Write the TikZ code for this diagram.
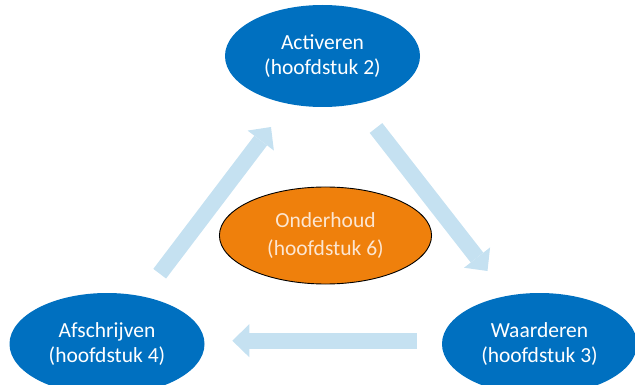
\documentclass[tikz,border=0pt]{standalone}
\usepackage{fontspec}
\setmainfont{Carlito}
\usetikzlibrary{shapes.geometric,arrows.meta}
\definecolor{ovalblue}{HTML}{0070C0}
\definecolor{ovalorange}{HTML}{EF800C}
\definecolor{orangetext}{HTML}{FCE6D2}
\definecolor{arrowblue}{HTML}{C5E1F1}
\tikzset{
  bluestage/.style={ellipse, fill=ovalblue, inner sep=0pt, minimum width=195pt, minimum height=102pt,
    text=white, align=center, font=\fontsize{21.5pt}{24.5pt}\selectfont},
  centerstage/.style={ellipse, fill=ovalorange, draw=black, line width=0.9pt, inner sep=0pt,
    minimum width=197pt, minimum height=97pt, text=orangetext, align=center,
    font=\fontsize{21.5pt}{28pt}\selectfont},
  flowarrow/.style={draw=arrowblue, line width=16pt,
    -{Triangle[length=17pt,width=33pt,line width=0pt,fill=arrowblue]}}
}
\begin{document}
\begin{tikzpicture}[x=1pt,y=-1pt]
\useasboundingbox (0,0) rectangle (635,385);
\clip (0,0) rectangle (635,385);
\node[bluestage] (act) at (322.5,56) {Activeren\\(hoofdstuk 2)};
\node[bluestage] (waa) at (539.5,344) {Waarderen\\(hoofdstuk 3)};
\node[bluestage] (afs) at (107,344) {Afschrijven\\(hoofdstuk 4)};
\node[centerstage] (ond) at (325.5,235.5) {\raisebox{-4pt}{\parbox{150pt}{\centering Onderhoud\\(hoofdstuk 6)}}};
\coordinate (a1s) at (159.7,273.7);
\coordinate (a1e) at (271,127);
\coordinate (a2s) at (376,128);
\coordinate (a2e) at (487.5,271);
\coordinate (a3s) at (416.7,340.7);
\coordinate (a3e) at (232.3,340.7);
\draw[flowarrow] (a1s) -- (a1e);
\draw[flowarrow] (a2s) -- (a2e);
\draw[flowarrow] (a3s) -- (a3e);
\end{tikzpicture}
\end{document}
